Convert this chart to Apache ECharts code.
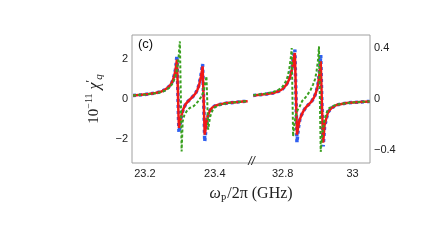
<!DOCTYPE html>
<html><head><meta charset="utf-8">
<script src="https://cdn.jsdelivr.net/npm/echarts@6.0.0/dist/echarts.min.js"></script>
<style>html,body{margin:0;padding:0;background:#fff}#c{width:436px;height:251px}</style>
</head><body><div id="c"></div>
<script>
// ---- data (frequency in GHz, response in units of 1e-11) ----
const xTicks = [23.2, 23.4, 32.8, 33];
const yTicksLeft = [-2, 0, 2];
const yTicksRight = [-0.4, 0, 0.4];
const breakStart = 23.505, breakEnd = 32.711;

const redLeftX = [23.166,23.19,23.21,23.23,23.245,23.255,23.265,23.272,23.278,23.283,23.287,23.290,23.2915,23.294,23.296,23.2975,23.300,23.305,23.310,23.316,23.323,23.330,23.337,23.344,23.350,23.355,23.360,23.363,23.365,23.3675,23.370,23.371,23.374,23.377,23.381,23.386,23.392,23.400,23.41,23.425,23.44,23.46,23.48,23.494];
const redLeftY = [0.18,0.21,0.25,0.30,0.36,0.44,0.56,0.68,0.85,1.1,1.4,1.75,1.97,0.6,-0.8,-1.45,-1.2,-0.78,-0.5,-0.27,-0.12,0.0,0.12,0.26,0.45,0.7,1.1,1.4,1.63,0.3,-1.2,-1.78,-1.45,-1.1,-0.8,-0.58,-0.44,-0.35,-0.29,-0.23,-0.19,-0.16,-0.13,-0.11];
const redRightX = [32.716,32.735,32.754,32.773,32.790,32.800,32.811,32.818,32.823,32.828,32.831,32.835,32.838,32.841,32.845,32.849,32.854,32.859,32.864,32.869,32.876,32.883,32.890,32.895,32.899,32.902,32.905,32.907,32.909,32.912,32.916,32.920,32.926,32.930,32.940,32.954,32.983,33.021,33.049];
const redRightY = [0.18,0.21,0.25,0.30,0.40,0.50,0.72,0.95,1.2,1.6,1.95,2.3,0.3,-1.78,-1.35,-1.03,-0.8,-0.62,-0.48,-0.37,-0.25,-0.12,0.08,0.3,0.55,0.8,1.2,1.5,1.88,0,-2.18,-1.3,-0.9,-0.65,-0.45,-0.3,-0.2,-0.15,-0.12];

const blueLeftX = redLeftX;
const blueLeftY = [0.18,0.21,0.25,0.30,0.36,0.44,0.56,0.68,0.86,1.12,1.45,1.85,2.18,0.6,-0.9,-1.68,-1.35,-0.8,-0.5,-0.27,-0.12,0.0,0.12,0.26,0.46,0.72,1.15,1.5,1.75,0.3,-1.3,-2.12,-1.6,-1.15,-0.82,-0.58,-0.44,-0.35,-0.29,-0.23,-0.19,-0.16,-0.13,-0.11];
const blueRightX = redRightX;
const blueRightY = [0.18,0.21,0.25,0.30,0.40,0.50,0.73,0.97,1.25,1.7,2.1,2.47,0.3,-2.17,-1.45,-1.05,-0.8,-0.62,-0.48,-0.37,-0.25,-0.12,0.08,0.3,0.56,0.82,1.3,1.7,2.2,0,-2.37,-1.4,-0.92,-0.66,-0.45,-0.3,-0.2,-0.15,-0.12];

const greenLeftX = [23.166,23.19,23.21,23.23,23.245,23.255,23.265,23.272,23.280,23.287,23.292,23.296,23.300,23.3025,23.305,23.308,23.313,23.319,23.328,23.338,23.346,23.352,23.360,23.366,23.371,23.374,23.376,23.3785,23.381,23.386,23.390,23.394,23.400,23.409,23.42,23.44,23.46,23.48,23.494];
const greenLeftY = [0.18,0.21,0.24,0.29,0.34,0.40,0.50,0.60,0.80,1.1,1.5,2.0,2.88,0.3,-2.62,-1.12,-0.8,-0.62,-0.45,-0.37,-0.25,-0.12,0.08,0.3,0.65,0.9,1.13,-0.2,-1.53,-0.93,-0.7,-0.55,-0.42,-0.33,-0.26,-0.2,-0.16,-0.13,-0.11];
const greenRightX = [32.716,32.735,32.754,32.773,32.790,32.800,32.808,32.814,32.819,32.823,32.826,32.828,32.830,32.834,32.838,32.843,32.849,32.856,32.868,32.880,32.887,32.893,32.897,32.901,32.904,32.9065,32.909,32.912,32.915,32.920,32.924,32.930,32.940,32.954,32.983,33.021,33.049];
const greenRightY = [0.19,0.23,0.28,0.35,0.48,0.62,0.85,1.1,1.5,2.0,2.55,0.3,-1.87,-1.2,-0.8,-0.55,-0.37,-0.1,0.13,0.45,0.72,1.0,1.38,1.9,2.63,0,-2.64,-2.0,-1.53,-1.0,-0.78,-0.5,-0.38,-0.28,-0.2,-0.15,-0.12];

function pairs(xl, yl, xr, yr) {
  const d = xl.map((x, i) => [x, yl[i]]);
  d.push([(breakStart + breakEnd) / 2, '-']);
  return d.concat(xr.map((x, i) => [x, yr[i]]));
}
const minus = v => String(v).replace('-', '\u2212');

const chart = echarts.init(document.getElementById('c'), null, {renderer: 'canvas'});
const frame = '#a0a0a0';
const serif = 'Liberation Serif';
const xBase = {
  type: 'value', min: 23.163, max: 33.05,
  breaks: [{start: breakStart, end: breakEnd, gap: 0}],
  breakArea: {show: false},
  splitLine: {show: false},
  axisLine: {show: false},
  axisTick: {show: false},
  minorTick: {show: false}
};
chart.setOption({
  animation: false,
  grid: {left: 132, right: 66, top: 35, bottom: 88, show: true, borderColor: frame, borderWidth: 1, backgroundColor: 'transparent'},
  xAxis: [
    Object.assign({}, xBase, {
      position: 'bottom',
      axisLabel: {customValues: xTicks, color: '#222', fontSize: 11, fontFamily: 'Liberation Sans', margin: 5, formatter: v => String(v)},
      name: '{w|ω}{s|P}{t|/2π (GHz)}', nameLocation: 'middle', nameGap: 21,
      nameTextStyle: {rich: {
        w: {fontFamily: serif, fontStyle: 'italic', fontSize: 16, color: '#222', lineHeight: 20, verticalAlign: 'middle'},
        s: {fontFamily: serif, fontSize: 10, color: '#222', lineHeight: 8, verticalAlign: 'bottom', padding: [0, 1, 0, 0]},
        t: {fontFamily: serif, fontSize: 16, color: '#222', lineHeight: 20, verticalAlign: 'middle'}
      }}
    }),
    Object.assign({}, xBase, {position: 'top', axisLabel: {show: false}})
  ],
  yAxis: [
    {type: 'value', min: -3.2, max: 3.2, position: 'left',
     splitLine: {show: false}, axisLine: {show: false}, axisTick: {show: false},
     axisLabel: {customValues: yTicksLeft, color: '#222', fontSize: 11, fontFamily: 'Liberation Sans', margin: 4, formatter: minus},
     name: '{a|10}{b|\u221211}{c| χ}{d|′}{e|q}', nameLocation: 'middle', nameGap: 20, nameRotate: 90,
     nameTextStyle: {rich: {
       a: {fontFamily: serif, fontSize: 15, color: '#222', lineHeight: 20, verticalAlign: 'middle'},
       b: {fontFamily: serif, fontSize: 10, color: '#222', lineHeight: 8, verticalAlign: 'top'},
       c: {fontFamily: serif, fontStyle: 'italic', fontSize: 16, color: '#222', lineHeight: 20, verticalAlign: 'middle'},
       d: {fontFamily: serif, fontSize: 12, color: '#222', lineHeight: 8, verticalAlign: 'top'},
       e: {fontFamily: serif, fontStyle: 'italic', fontSize: 11, color: '#222', lineHeight: 8, verticalAlign: 'bottom'}
     }}},
    {type: 'value', min: -0.5, max: 0.5, position: 'right',
     splitLine: {show: false}, axisLine: {show: false}, axisTick: {show: false},
     axisLabel: {customValues: yTicksRight, color: '#222', fontSize: 11, fontFamily: 'Liberation Sans', margin: 4, formatter: minus}}
  ],
  series: [
    {type: 'line', name: 'blue', data: pairs(blueLeftX, blueLeftY, blueRightX, blueRightY), showSymbol: false, symbol: 'none', z: 2,
     lineStyle: {color: '#2f5ff0', width: 3.5, type: [3, 3]}},
    {type: 'line', name: 'red', data: pairs(redLeftX, redLeftY, redRightX, redRightY), showSymbol: false, symbol: 'none', z: 3,
     lineStyle: {color: '#f01818', width: 2.5}},
    {type: 'line', name: 'green', data: pairs(greenLeftX, greenLeftY, greenRightX, greenRightY), showSymbol: false, symbol: 'none', z: 4,
     lineStyle: {color: '#3aa020', width: 2, type: [3, 2]}}
  ]
});
const bx = chart.convertToPixel({xAxisIndex: 0}, breakStart);
const by = chart.convertToPixel({yAxisIndex: 0}, -3.2);
chart.setOption({graphic: [
  {type: 'text', left: 138, top: 38, style: {text: '(c)', fontSize: 13, fontFamily: 'Liberation Sans', fill: '#111'}},
  {type: 'text', x: bx, y: by - 1, style: {text: '//', fontSize: 12, fontStyle: 'italic', fontFamily: 'Liberation Sans', fill: '#222', align: 'center', verticalAlign: 'middle'}, z: 10}
]});
</script></body></html>
